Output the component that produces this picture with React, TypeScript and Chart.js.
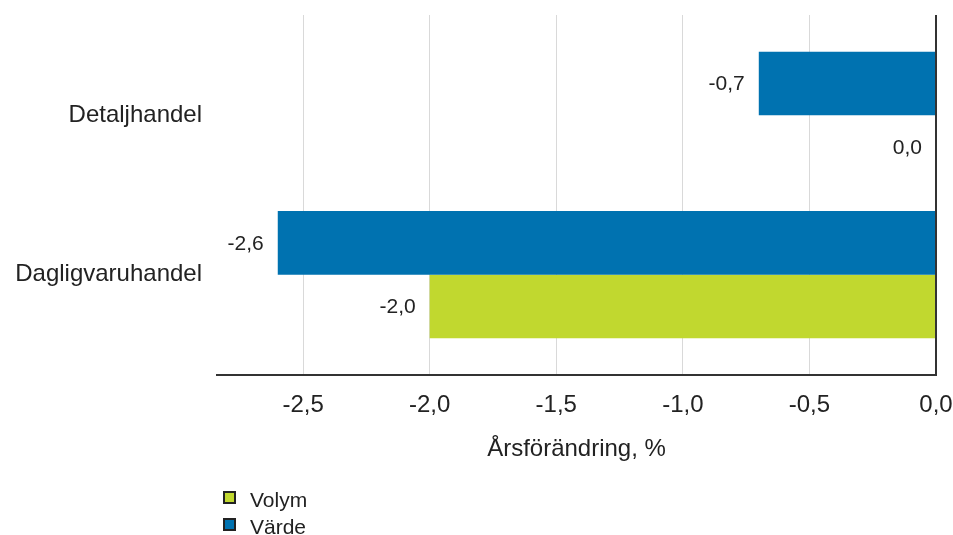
import React, { useEffect, useRef } from 'react';
import { Chart, registerables } from 'chart.js';

Chart.register(...registerables);

// ---- data ----
const categories = ['Detaljhandel', 'Dagligvaruhandel'];
const seriesNames = ['Värde', 'Volym'];
const vardeValues = [-0.7, -2.6];
const volymValues = [0.0, -2.0];
const xTickValues = [-2.5, -2.0, -1.5, -1.0, -0.5, 0.0];
const legendOrder = ['Volym', 'Värde'];
const xTitle = 'Årsförändring, %';

// ---- styles ----
const BLUE = '#0072b0';
const GREEN = '#c1d82f';
const TEXT = '#222222';
const FONT = '"Liberation Sans", Arial, Helvetica, sans-serif';
const colorByName: Record<string, string> = { 'Värde': BLUE, 'Volym': GREEN };

const fmt = (v: number) => {
  const n = Math.abs(v) < 1e-9 ? 0 : v;
  return n.toFixed(1).replace('.', ',');
};

const valueLabels = {
  id: 'valueLabels',
  afterDatasetsDraw(chart: any) {
    const ctx = chart.ctx;
    ctx.save();
    ctx.font = `21px ${FONT}`;
    ctx.fillStyle = TEXT;
    ctx.textAlign = 'right';
    ctx.textBaseline = 'middle';
    chart.data.datasets.forEach((ds: any, di: number) => {
      const meta = chart.getDatasetMeta(di);
      meta.data.forEach((el: any, i: number) => {
        const v = ds.data[i].x;
        ctx.fillText(fmt(v), el.x - 14, el.y + 1);
      });
    });
    ctx.restore();
  },
};

export default function App() {
  const canvasRef = useRef<HTMLCanvasElement | null>(null);

  useEffect(() => {
    document.body.style.margin = '0';
    const canvas = canvasRef.current;
    if (!canvas) return;
    const seriesValues = [vardeValues, volymValues];
    const chart = new Chart(canvas, {
      type: 'bar',
      data: {
        datasets: seriesNames.map((name, si) => ({
          label: name,
          data: seriesValues[si].map((v, i) => ({ x: v, y: i })),
          backgroundColor: colorByName[name],
          borderWidth: 0,
          barPercentage: 1,
          categoryPercentage: 0.8,
        })),
      },
      options: {
        indexAxis: 'y',
        responsive: false,
        animation: false,
        devicePixelRatio: 1,
        layout: { padding: { left: 0, right: 17, top: 15, bottom: 71 } },
        plugins: {
          legend: { display: false },
          tooltip: { enabled: false },
        },
        scales: {
          x: {
            type: 'linear',
            position: 'bottom',
            min: -2.84,
            max: 0,
            offset: false,
            afterBuildTicks: (scale: any) => {
              scale.ticks = xTickValues.map((v) => ({ value: v }));
            },
            afterFit: (scale: any) => {
              scale.height = 89;
              scale.paddingLeft = 0;
              scale.paddingRight = 0;
            },
            ticks: {
              padding: 16,
              color: TEXT,
              font: { family: FONT, size: 24 },
              callback: (v: any) => fmt(Number(v)),
            },
            grid: {
              offset: false,
              drawTicks: false,
              color: (c: any) => (c.tick && Math.abs(c.tick.value) < 1e-9 ? '#333333' : '#d9d9d9'),
              lineWidth: (c: any) => (c.tick && Math.abs(c.tick.value) < 1e-9 ? 2 : 1),
            },
            border: { display: true, color: '#333333', width: 2 },
            title: {
              display: true,
              text: xTitle,
              color: TEXT,
              font: { family: FONT, size: 24 },
              padding: { top: 0, bottom: 0 },
            },
          },
          y: {
            type: 'linear',
            reverse: true,
            offset: false,
            min: -0.63,
            max: 1.63,
            afterBuildTicks: (scale: any) => {
              scale.ticks = categories.map((_, i) => ({ value: i }));
            },
            afterFit: (scale: any) => {
              scale.width = 217;
              scale.paddingTop = 0;
              scale.paddingBottom = 0;
            },
            ticks: {
              padding: 15,
              color: TEXT,
              font: { family: FONT, size: 24 },
              callback: (v: any) => categories[Number(v)] ?? '',
            },
            grid: { display: false, drawTicks: false, offset: false },
            border: { display: false },
          },
        },
      } as any,
      plugins: [valueLabels],
    });
    return () => chart.destroy();
  }, []);

  return (
    <div style={{ position: 'absolute', left: 0, top: 0, width: 953, height: 535, background: '#fff', overflow: 'hidden' }}>
      <canvas ref={canvasRef} width={953} height={535} style={{ display: 'block', width: 953, height: 535 }} />
      {legendOrder.map((name, i) => (
        <div key={name}>
          <div
            style={{
              position: 'absolute',
              left: 223,
              top: 491 + i * 26.5,
              width: 13,
              height: 13,
              boxSizing: 'border-box',
              border: '2px solid #222',
              background: colorByName[name],
            }}
          />
          <div
            style={{
              position: 'absolute',
              left: 250,
              top: 489 + i * 26.5,
              fontFamily: FONT,
              fontSize: 21,
              lineHeight: '21px',
              color: TEXT,
              whiteSpace: 'nowrap',
            }}
          >
            {name}
          </div>
        </div>
      ))}
    </div>
  );
}
